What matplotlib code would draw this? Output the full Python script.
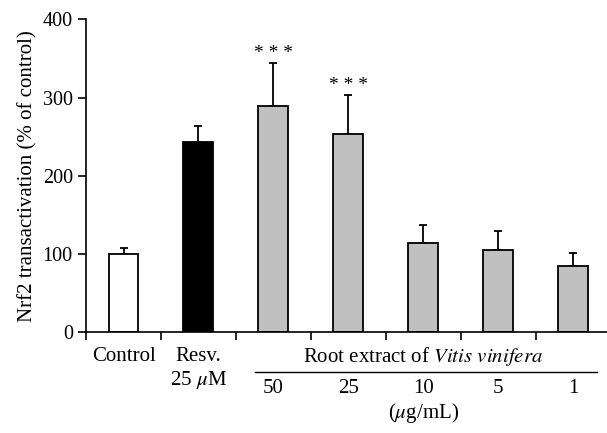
import numpy as np
import matplotlib.pyplot as plt

plt.rcParams['font.family'] = ['Liberation Serif', 'DejaVu Serif']
plt.rcParams['mathtext.fontset'] = 'stix'

groups = ['Control', 'Resv.', '50', '25', '10', '5', '1']
values = [100, 243, 289, 253, 114, 105, 84]
errors = [7, 21, 55, 50, 23, 24, 17]
colors = ['white', 'black', '#c0c0c0', '#c0c0c0', '#c0c0c0', '#c0c0c0', '#c0c0c0']
starred = [2, 3]
doses = ['50', '25', '10', '5', '1']

fig = plt.figure(figsize=(6.07, 4.33), dpi=100)
ax = fig.add_axes([0.1417, 0.2333, 0.861, 0.722])

x = np.arange(len(groups))
ax.bar(x, values, width=0.4, color=colors, edgecolor='black', linewidth=1.3, zorder=2)
ax.errorbar(x, values, yerr=[np.zeros(len(errors)), errors], fmt='none',
            ecolor='black', elinewidth=1.3, capsize=3, capthick=1.3, zorder=1)

for i in starred:
    ax.text(x[i], values[i] + errors[i] + 12, '* * *', ha='center', va='center', fontsize=14)

fs = 15
ax.set_ylim(0, 400)
ax.set_xlim(-0.5, 6.47)
ax.set_yticks([0, 100, 200, 300, 400])
ax.set_xticks(np.arange(-0.5, 6, 1))
ax.set_xticklabels([])
ax.tick_params(axis='both', direction='out', length=6, width=1.2, labelsize=14.5)
for s in ['top', 'right']:
    ax.spines[s].set_visible(False)
for s in ['left', 'bottom']:
    ax.spines[s].set_linewidth(1.2)
ax.set_ylabel('Nrf2 transactivation (% of control)', fontsize=fs, labelpad=4)

# category labels below the axis
tr = ax.get_xaxis_transform()
ax.text(0, -0.08, 'Control', ha='center', va='center', fontsize=fs, transform=tr)
ax.text(1, -0.08, 'Resv.', ha='center', va='center', fontsize=fs, transform=tr)
ax.text(1, -0.152, r'25 $\mu$M', ha='center', va='center', fontsize=fs, transform=tr)
ax.text(4, -0.08, r'Root extract of $\it{Vitis\ vinifera}$', ha='center', va='center',
        fontsize=fs, transform=tr)
ax.plot([1.76, 6.31], [-0.128, -0.128], color='black', lw=1.0, transform=tr, clip_on=False)
for xi, d in zip(x[2:], doses):
    ax.text(xi, -0.18, d, ha='center', va='center', fontsize=fs, transform=tr)
ax.text(4, -0.26, r'($\mu$g/mL)', ha='center', va='center', fontsize=fs, transform=tr)

fig.savefig('out.png', dpi=100)
